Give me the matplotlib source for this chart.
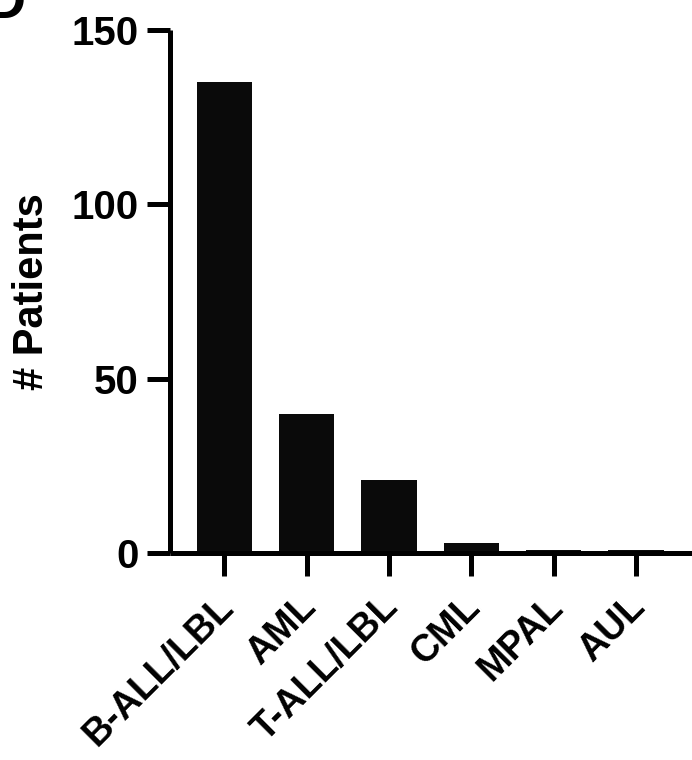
import matplotlib.pyplot as plt
import matplotlib.transforms as mtransforms

plt.rcParams['font.family'] = ['Liberation Sans', 'DejaVu Sans']
plt.rcParams['font.weight'] = 'bold'

categories = ['B-ALL/LBL', 'AML', 'T-ALL/LBL', 'CML', 'MPAL', 'AUL']
patients = [135, 40, 21, 3, 1, 1]
yticks = [0, 50, 100, 150]

fig = plt.figure(figsize=(6.92, 7.6), dpi=100)
ax = fig.add_axes([170 / 692, 1 - 553 / 760, 1 - 170 / 692, (553 - 30) / 760])

ax.bar(range(len(categories)), patients, width=0.67, color='#0a0a0a')

ax.set_xlim(-0.66, 5.68)
ax.set_ylim(0, 150)
ax.set_yticks(yticks)
ax.set_xticks(range(len(categories)))
ax.set_xticklabels(categories, rotation=45, ha='right', rotation_mode='anchor')

for s in ['top', 'right']:
    ax.spines[s].set_visible(False)
for s in ['left', 'bottom']:
    ax.spines[s].set_linewidth(3.6)
    ax.spines[s].set_capstyle('butt')

ax.tick_params(axis='both', length=16.5, width=3.6, labelsize=29, pad=6)
ax.tick_params(axis='x', pad=8, labelsize=27)
ax.set_ylabel('# Patients', fontsize=30, fontweight='bold', labelpad=14)

# nudge rotated category labels a little left
offset = mtransforms.ScaledTranslation(-9 / 100, -2 / 100, fig.dpi_scale_trans)
for lbl in ax.get_xticklabels():
    lbl.set_fontweight('bold')
    lbl.set_transform(lbl.get_transform() + offset)
for lbl in ax.get_yticklabels():
    lbl.set_fontweight('bold')

# cut-off panel letter
fig.text(25 / 692, 1 - 18 / 760, 'D', fontsize=40, fontweight='bold',
         ha='right', va='baseline')

fig.savefig('out.png', dpi=100)
